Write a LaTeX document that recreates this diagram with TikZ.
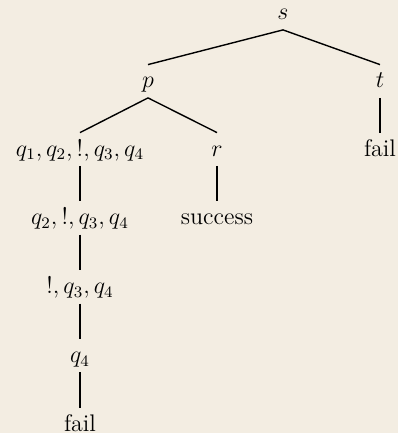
\documentclass[tikz,border=0pt]{standalone}
\usepackage{tikz}
\usetikzlibrary{positioning}
\definecolor{bgc}{HTML}{F3EDE2}
\tikzset{
  lbl/.style = {inner xsep=1pt, inner ysep=2pt, text height=9.5pt,
                text depth=2.75pt, font=\fontsize{12}{14}\selectfont},
  edg/.style = {line width=0.7pt, black},
}

\begin{document}
\begin{tikzpicture}[x=0.5pt, y=-0.5pt, node distance=17.75pt]
  \fill[bgc] (0,0) rectangle (398,433);
  \useasboundingbox (0,0) rectangle (398,433);

  \node[lbl, anchor=base] (s)  at (283,20)  {$s$};
  \node[lbl, anchor=base] (p)  at (148,88)  {$p$};
  \node[lbl, anchor=base] (t)  at (380,88)  {$t$};
  \node[lbl, anchor=base] (q1) at (80,156)  {$q_1, q_2, !, q_3, q_4$};
  \node[lbl, anchor=base] (r)  at (217,156) {$r$};
  \node[lbl, below=of t]  (f1) {fail};
  \node[lbl, below=of q1] (q2) {$q_2, !, q_3, q_4$};
  \node[lbl, below=of r]  (sc) {success};
  \node[lbl, below=of q2] (q3) {$!, q_3, q_4$};
  \node[lbl, below=of q3] (q4) {$q_4$};
  \node[lbl, below=of q4] (f2) {fail};

  \foreach \i/\j in {s/p, s/t, p/q1, p/r, t/f1, q1/q2,
                     r/sc, q2/q3, q3/q4, q4/f2}
    \draw[edg] (\i.south) -- (\j.north);

\end{tikzpicture}
\end{document}
